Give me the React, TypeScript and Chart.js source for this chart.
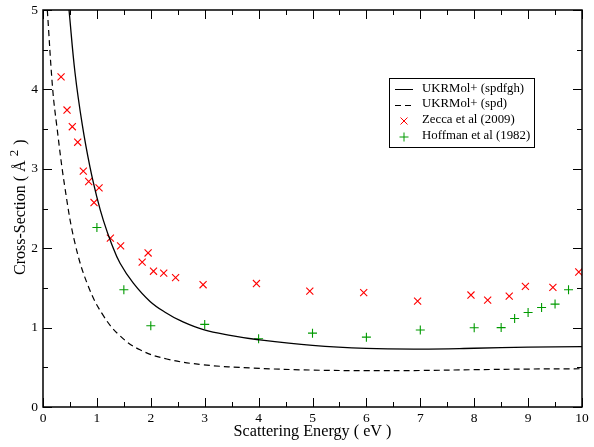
import React, { useEffect, useRef } from "react";
import { Chart, registerables } from "chart.js";

Chart.register(...registerables);

const solidEnergy = [0.483, 0.594, 0.73, 0.872, 0.997, 1.12, 1.275, 1.43, 1.676, 1.986, 2.296, 2.54, 2.976, 3.5, 4, 5, 6, 7, 8, 9, 10];
const solidCross = [5, 4.21, 3.55, 3.02, 2.65, 2.35, 2.05, 1.81, 1.56, 1.33, 1.18, 1.09, 0.975, 0.9, 0.847, 0.775, 0.738, 0.73, 0.74, 0.755, 0.76];

const dashedEnergy = [0.08, 0.18, 0.254, 0.408, 0.594, 0.84, 1.12, 1.43, 1.8, 2.296, 2.976, 3.9, 5, 6, 7, 8, 9, 10];
const dashedCross = [5, 4, 3.55, 2.756, 2.06, 1.52, 1.15, 0.895, 0.72, 0.605, 0.532, 0.49, 0.465, 0.458, 0.46, 0.47, 0.478, 0.482];

const zeccaEnergy = [0.335, 0.446, 0.544, 0.644, 0.748, 0.848, 0.947, 1.04, 1.25, 1.44, 1.84, 1.95, 2.05, 2.24, 2.46, 2.97, 3.96, 4.95, 5.95, 6.95, 7.94, 8.25, 8.65, 8.95, 9.46, 9.94];
const zeccaCross = [4.157, 3.74, 3.53, 3.335, 2.97, 2.84, 2.575, 2.76, 2.127, 2.03, 1.825, 1.94, 1.71, 1.686, 1.63, 1.54, 1.555, 1.46, 1.44, 1.334, 1.41, 1.346, 1.397, 1.52, 1.506, 1.7];

const hoffmanEnergy = [1, 1.5, 2, 3, 4, 5, 6, 7, 8, 8.5, 8.75, 9, 9.25, 9.5, 9.75];
const hoffmanCross = [2.26, 1.476, 1.023, 1.04, 0.86, 0.93, 0.88, 0.969, 0.998, 1.0, 1.115, 1.19, 1.254, 1.296, 1.476];

const seriesLabels = ["UKRMol+ (spdfgh)", "UKRMol+ (spd)", "Zecca et al (2009)", "Hoffman et al (1982)"];
const xTitle = "Scattering Energy ( eV )";
const yTitle = ["Cross-Section ( Å", "2", " )"];

const FONT = '"Liberation Serif", serif';
const RED = "#ff0000";
const GREEN = "#009a00";

const toPoints = (xs: number[], ys: number[]) => xs.map((x, i) => ({ x, y: ys[i] }));

// grace style frame: inward ticks on all four sides, legend box, y title with superscript
const framePlugin = {
  id: "frame",
  afterDatasetsDraw(chart: any) {
    const { ctx, chartArea: a, scales } = chart;
    ctx.save();
    ctx.strokeStyle = "#000";
    ctx.lineWidth = 1;
    scales.x.ticks.forEach((t: any) => {
      const px = Math.round(scales.x.getPixelForValue(t.value)) + 0.5;
      const len = Number.isInteger(t.value) ? 9 : 5;
      ctx.beginPath();
      ctx.moveTo(px, a.bottom);
      ctx.lineTo(px, a.bottom - len);
      ctx.moveTo(px, a.top);
      ctx.lineTo(px, a.top + len);
      ctx.stroke();
    });
    scales.y.ticks.forEach((t: any) => {
      const py = Math.round(scales.y.getPixelForValue(t.value)) + 0.5;
      const len = Number.isInteger(t.value) ? 9 : 5;
      ctx.beginPath();
      ctx.moveTo(a.left, py);
      ctx.lineTo(a.left + len, py);
      ctx.moveTo(a.right, py);
      ctx.lineTo(a.right - len, py);
      ctx.stroke();
    });
    ctx.lineWidth = 1.5;
    ctx.strokeRect(a.left, a.top, a.right - a.left, a.bottom - a.top);

    // legend
    ctx.fillStyle = "#fff";
    ctx.fillRect(389.5, 78.5, 145, 69);
    ctx.lineWidth = 1;
    ctx.strokeRect(389.5, 78.5, 145, 69);
    const rows = [88.5, 104, 120, 136];
    ctx.textBaseline = "middle";
    ctx.textAlign = "left";
    ctx.font = `12.8px ${FONT}`;
    seriesLabels.forEach((label, i) => {
      ctx.fillStyle = "#000";
      ctx.fillText(label, 422, rows[i]);
    });
    ctx.strokeStyle = "#000";
    ctx.lineWidth = 1;
    ctx.beginPath();
    ctx.moveTo(395, 89.5);
    ctx.lineTo(413, 89.5);
    ctx.stroke();
    ctx.setLineDash([6, 4]);
    ctx.beginPath();
    ctx.moveTo(395, 105.5);
    ctx.lineTo(413, 105.5);
    ctx.stroke();
    ctx.setLineDash([]);
    ctx.strokeStyle = RED;
    ctx.beginPath();
    ctx.moveTo(400.5, 117.5);
    ctx.lineTo(407.5, 124.5);
    ctx.moveTo(407.5, 117.5);
    ctx.lineTo(400.5, 124.5);
    ctx.stroke();
    ctx.strokeStyle = GREEN;
    ctx.beginPath();
    ctx.moveTo(399.5, 137);
    ctx.lineTo(408.5, 137);
    ctx.moveTo(404, 132.5);
    ctx.lineTo(404, 141.5);
    ctx.stroke();

    // y title
    ctx.translate(20, 0);
    ctx.rotate(-Math.PI / 2);
    ctx.fillStyle = "#000";
    ctx.textBaseline = "alphabetic";
    ctx.font = `16px ${FONT}`;
    let pos = -275;
    ctx.fillText(yTitle[0], pos, 5);
    pos += ctx.measureText(yTitle[0]).width + 4;
    ctx.font = `13px ${FONT}`;
    ctx.fillText(yTitle[1], pos, -2);
    pos += ctx.measureText(yTitle[1]).width + 1;
    ctx.font = `16px ${FONT}`;
    ctx.fillText(yTitle[2], pos, 5);
    ctx.restore();
  },
};

const App: React.FC = () => {
  const canvasRef = useRef<HTMLCanvasElement | null>(null);

  useEffect(() => {
    document.body.style.margin = "0";
    const ctx = canvasRef.current?.getContext("2d");
    if (!ctx) return;

    const tickLabel = (v: any) => (Number.isInteger(v) ? String(v) : "");

    const chart = new Chart(ctx, {
      type: "line",
      data: {
        datasets: [
          {
            label: seriesLabels[0],
            data: toPoints(solidEnergy, solidCross),
            borderColor: "#000",
            borderWidth: 1.3,
            pointRadius: 0,
            tension: 0.4,
          },
          {
            label: seriesLabels[1],
            data: toPoints(dashedEnergy, dashedCross),
            borderColor: "#000",
            borderWidth: 1.2,
            borderDash: [6, 4],
            pointRadius: 0,
            tension: 0.4,
          },
          {
            label: seriesLabels[2],
            data: toPoints(zeccaEnergy, zeccaCross),
            showLine: false,
            pointStyle: "crossRot",
            pointRadius: 5,
            pointBorderColor: RED,
            pointBorderWidth: 1.1,
          },
          {
            label: seriesLabels[3],
            data: toPoints(hoffmanEnergy, hoffmanCross),
            showLine: false,
            pointStyle: "cross",
            pointRadius: 4.5,
            pointBorderColor: GREEN,
            pointBorderWidth: 1.1,
          },
        ] as any,
      },
      plugins: [framePlugin],
      options: {
        responsive: false,
        animation: false,
        layout: { padding: { top: 10, right: 12, left: 0, bottom: 6 } },
        plugins: { legend: { display: false }, tooltip: { enabled: false } },
        scales: {
          x: {
            type: "linear",
            min: 0,
            max: 10,
            afterFit: (s: any) => {
              s.height = 34;
              s.paddingLeft = 0;
              s.paddingRight = 0;
            },
            grid: { display: false, drawTicks: false },
            border: { display: false },
            title: {
              display: true,
              text: xTitle,
              color: "#000",
              font: { family: FONT, size: 16.2 },
              padding: { top: 1, bottom: 0 },
            },
            ticks: {
              stepSize: 0.5,
              autoSkip: false,
              maxRotation: 0,
              padding: 3,
              color: "#000",
              font: { family: FONT, size: 13.5 },
              callback: tickLabel,
            },
          },
          y: {
            min: 0,
            max: 5,
            afterFit: (s: any) => {
              s.width = 43;
              s.paddingTop = 0;
              s.paddingBottom = 0;
            },
            grid: { display: false, drawTicks: false },
            border: { display: false },
            ticks: {
              stepSize: 0.5,
              autoSkip: false,
              padding: 5,
              color: "#000",
              font: { family: FONT, size: 13.5 },
              callback: tickLabel,
            },
          },
        },
      },
    });

    return () => chart.destroy();
  }, []);

  return <canvas ref={canvasRef} width={594} height={447} style={{ display: "block" }} />;
};

export default App;
